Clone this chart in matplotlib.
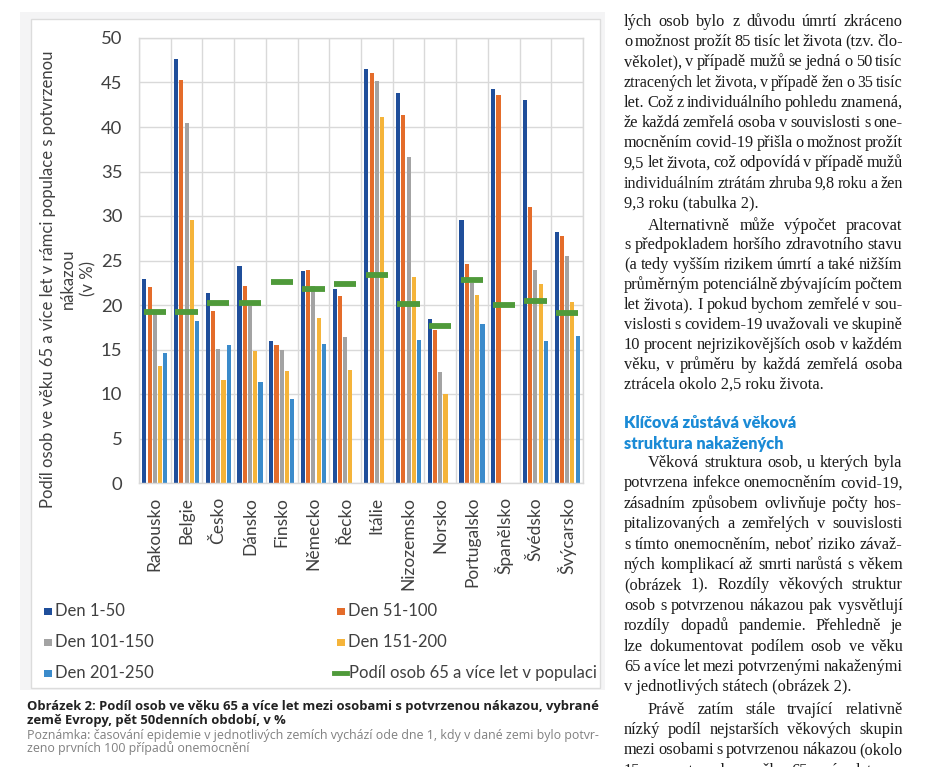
import numpy as np
import matplotlib
matplotlib.use("Agg")
import matplotlib.pyplot as plt
from matplotlib.patches import Rectangle
from matplotlib.lines import Line2D

# ---------------- data ----------------
countries = ["Rakousko", "Belgie", "Česko", "Dánsko", "Finsko", "Německo", "Řecko",
             "Itálie", "Nizozemsko", "Norsko", "Portugalsko", "Španělsko", "Švédsko", "Švýcarsko"]
nan = np.nan
den_1_50 = [22.9, 47.6, 21.3, 24.4, 16.0, 23.8, 21.8, 46.5, 43.8, 18.4, 29.5, 44.3, 43.0, 28.2]
den_51_100 = [22.0, 45.3, 19.3, 22.1, 15.5, 23.9, 21.0, 46.1, 41.3, 17.2, 24.6, 43.6, 31.0, 27.8]
den_101_150 = [19.0, 40.4, 15.1, 19.9, 14.9, 22.1, 16.4, 45.2, 36.6, 12.5, 22.5, nan, 23.9, 25.5]
den_151_200 = [13.1, 29.5, 11.6, 14.8, 12.6, 18.5, 12.7, 41.1, 23.1, 10.0, 21.1, nan, 22.4, 20.3]
den_201_250 = [14.6, 18.2, 15.5, 11.4, 9.4, 15.6, nan, nan, 16.1, nan, 17.9, nan, 16.0, 16.5]
pop65 = [19.2, 19.2, 20.2, 20.2, 22.6, 21.8, 22.4, 23.4, 20.1, 17.6, 22.8, 20.0, 20.4, 19.1]
series_labels = ["Den 1-50", "Den 51-100", "Den 101-150", "Den 151-200", "Den 201-250"]
pop_label = "Podíl osob 65 a více let v populaci"
y_ticks = [0, 5, 10, 15, 20, 25, 30, 35, 40, 45, 50]

colors = ["#1f4e9a", "#e46c2a", "#a3a3a3", "#f5b43a", "#3b8bcb"]
green = "#4f9a3a"

W, H = 931, 767
fig = plt.figure(figsize=(W / 100, H / 100), dpi=100)
fig.patch.set_facecolor("white")


def fx(x):
    return x / W


def fy(y):
    return 1 - y / H


# chart frame
fig.add_artist(Rectangle((fx(20), fy(690)), (605 - 20) / W, (690 - 12) / H,
                         transform=fig.transFigure, facecolor="#f4f4f5", edgecolor="none", zorder=-3))
fig.add_artist(Rectangle((fx(31), fy(688)), (600 - 31) / W, (688 - 19) / H,
                         transform=fig.transFigure, facecolor="white", edgecolor="#dcdcdc", lw=1, zorder=-2))

# ---------------- axes ----------------
ax = fig.add_axes([fx(139), fy(483), (583 - 139) / W, (483 - 38) / H])
ax.set_facecolor("none")
x = np.arange(len(countries))
all_series = [den_1_50, den_51_100, den_101_150, den_151_200, den_201_250]
step, bw = 0.165, 0.13
for i, (vals, c, lab) in enumerate(zip(all_series, colors, series_labels)):
    ax.bar(x + (i - 2) * step, vals, width=bw, color=c, label=lab, zorder=2)
ax.hlines(pop65, x - 0.35, x + 0.35, colors=green, lw=4.2, zorder=3, label=pop_label)

ax.set_xlim(-0.5, len(countries) - 0.5)
ax.set_ylim(0, 50)
ax.set_yticks(y_ticks)
ax.set_xticks(x)
ax.set_xticklabels(countries, rotation=90, family="Lato", fontsize=12.5, color="#404040")
ax.set_xticks(np.arange(-0.5, len(countries), 1.0), minor=True)
ax.tick_params(axis="x", which="both", length=0, pad=10)
ax.tick_params(axis="y", length=0, pad=12, labelsize=13.3, labelcolor="#404040")
for t in ax.get_yticklabels():
    t.set_family("Lato")
ax.grid(True, axis="y", which="major", color="#d9d9d9", lw=1, zorder=0)
ax.grid(True, axis="x", which="minor", color="#d9d9d9", lw=1, zorder=0)
ax.grid(False, axis="x", which="major")
for s in ax.spines.values():
    s.set_color("#d9d9d9")
    s.set_linewidth(1)

fig.text(fx(68), fy(279), "Podíl osob ve věku 65 a více let v rámci populace s potvrzenou\nnákazou\n(v %)",
         rotation=90, ha="center", va="center", multialignment="center", linespacing=1.32,
         family="Lato", fontsize=12.0, color="#404040")

# ---------------- legend (manual) ----------------
leg_fs = 12.0
leg_rows = [616, 647, 678]
leg_items = [(0, 0), (1, 1), (2, 0), (3, 1), (4, 0)]
for (si, col) in leg_items:
    row = si // 2
    xm = 44 if col == 0 else 337
    yb = leg_rows[row]
    fig.add_artist(Rectangle((fx(xm), fy(yb - 1)), 7.5 / W, 7.5 / H, transform=fig.transFigure,
                             facecolor=colors[si], edgecolor="none"))
    fig.text(fx(xm + 11), fy(yb), series_labels[si], family="Lato", fontsize=leg_fs,
             color="#404040", va="baseline")
fig.add_artist(Line2D([fx(334), fx(347)], [fy(673), fy(673)], transform=fig.transFigure,
                      color=green, lw=3.5))
fig.text(fx(349), fy(678), pop_label, family="Lato", fontsize=leg_fs, color="#404040", va="baseline")

# ---------------- caption ----------------
renderer = fig.canvas.get_renderer()


def fit_size(s, width_px, family, weight="normal", base=10):
    t = fig.text(0, 0, s, fontsize=base, family=family, weight=weight)
    w = t.get_window_extent(renderer=renderer).width
    t.remove()
    return base * width_px / w


cap1 = "Obrázek 2: Podíl osob ve věku 65 a více let mezi osobami s potvrzenou nákazou, vybrané"
cap2 = "země Evropy, pět 50denních období, v %"
fs_cap = fit_size(cap1, 571, "Open Sans", "bold")
fig.text(fx(27), fy(710), cap1, family="Open Sans", weight="bold", fontsize=fs_cap, color="#222222", va="baseline")
fig.text(fx(27), fy(724), cap2, family="Open Sans", weight="bold", fontsize=fs_cap, color="#222222", va="baseline")
note1 = "Poznámka: časování epidemie v jednotlivých zemích vychází ode dne 1, kdy v dané zemi bylo potvr-"
note2 = "zeno prvních 100 případů onemocnění"
fs_note = fit_size(note1, 569, "Open Sans")
fig.text(fx(27), fy(739), note1, family="Open Sans", fontsize=fs_note, color="#808080", va="baseline")
fig.text(fx(27), fy(752), note2, family="Open Sans", fontsize=fs_note, color="#808080", va="baseline")

# ---------------- right column text ----------------
SERIF = "Liberation Serif"
fs_body = 11.75
col_x0, col_x1, indent = 624, 902.5, 24
txt_color = "#1c1c1c"


def put_line(s, x0, x1, yb, justify):
    if not justify:
        fig.text(fx(x0), fy(yb), s, family=SERIF, fontsize=fs_body, color=txt_color, va="baseline")
        return
    words = s.split(" ")
    fs = fs_body
    ts = [fig.text(0, 0, w, family=SERIF, fontsize=fs, color=txt_color, va="baseline") for w in words]
    ws = [t.get_window_extent(renderer=renderer).width for t in ts]
    min_gap = 2.6
    need = sum(ws) + min_gap * (len(words) - 1)
    if need > x1 - x0:
        k = (x1 - x0 - min_gap * (len(words) - 1)) / sum(ws)
        for t in ts:
            t.set_fontsize(fs * k)
        ws = [t.get_window_extent(renderer=renderer).width for t in ts]
    gap = (x1 - x0 - sum(ws)) / (len(words) - 1)
    xx = x0
    for t, w in zip(ts, ws):
        t.set_position((fx(xx), fy(yb)))
        xx += w + gap


def paragraph(lines, y_center0, step, first_indent, last_plain=True):
    for k, s in enumerate(lines):
        x0 = col_x0 + (indent if (k == 0 and first_indent) else 0)
        just = (k < len(lines) - 1) or not last_plain
        put_line(s, x0, col_x1, y_center0 + k * step + 4, just)


p1 = ["lých osob bylo z důvodu úmrtí zkráceno",
      "o možnost prožít 85 tisíc let života (tzv. člo-",
      "věkolet), v případě mužů se jedná o 50 tisíc",
      "ztracených let života, v případě žen o 35 tisíc",
      "let. Což z individuálního pohledu znamená,",
      "že každá zemřelá osoba v souvislosti s one-",
      "mocněním covid-19 přišla o možnost prožít",
      "9,5 let života, což odpovídá v případě mužů",
      "individuálním ztrátám zhruba 9,8 roku a žen",
      "9,3 roku (tabulka 2)."]
p2 = ["Alternativně může výpočet pracovat",
      "s předpokladem horšího zdravotního stavu",
      "(a tedy vyšším rizikem úmrtí a také nižším",
      "průměrným potenciálně zbývajícím počtem",
      "let života). I pokud bychom zemřelé v sou-",
      "vislosti s covidem-19 uvažovali ve skupině",
      "10 procent nejrizikovějších osob v každém",
      "věku, v průměru by každá zemřelá osoba",
      "ztrácela okolo 2,5 roku života."]
p3 = ["Věková struktura osob, u kterých byla",
      "potvrzena infekce onemocněním covid-19,",
      "zásadním způsobem ovlivňuje počty hos-",
      "pitalizovaných a zemřelých v souvislosti",
      "s tímto onemocněním, neboť riziko závaž-",
      "ných komplikací až smrti narůstá s věkem",
      "(obrázek 1). Rozdíly věkových struktur",
      "osob s potvrzenou nákazou pak vysvětlují",
      "rozdíly dopadů pandemie. Přehledně je",
      "lze dokumentovat podílem osob ve věku",
      "65 a více let mezi potvrzenými nakaženými",
      "v jednotlivých státech (obrázek 2)."]
p4 = ["Právě zatím stále trvající relativně",
      "nízký podíl nejstarších věkových skupin",
      "mezi osobami s potvrzenou nákazou (okolo",
      "15 procent osob ve věku 65 a více let, pro"]

paragraph(p1, 22, 20.2, False)
paragraph(p2, 225.5, 19.9, True)
paragraph(p3, 463, 20.4, True)
paragraph(p4, 710, 20.2, True, last_plain=False)

head1 = "Klíčová zůstává věková"
head2 = "struktura nakažených"
fs_head = fit_size(head1, 173, "Lato", "heavy")
fig.text(fx(624), fy(428), head1, family="Lato", weight="heavy", fontsize=fs_head, color="#1b8bd6", va="baseline")
fig.text(fx(624), fy(449), head2, family="Lato", weight="heavy", fontsize=fs_head, color="#1b8bd6", va="baseline")

fig.savefig("out.png", dpi=100)
